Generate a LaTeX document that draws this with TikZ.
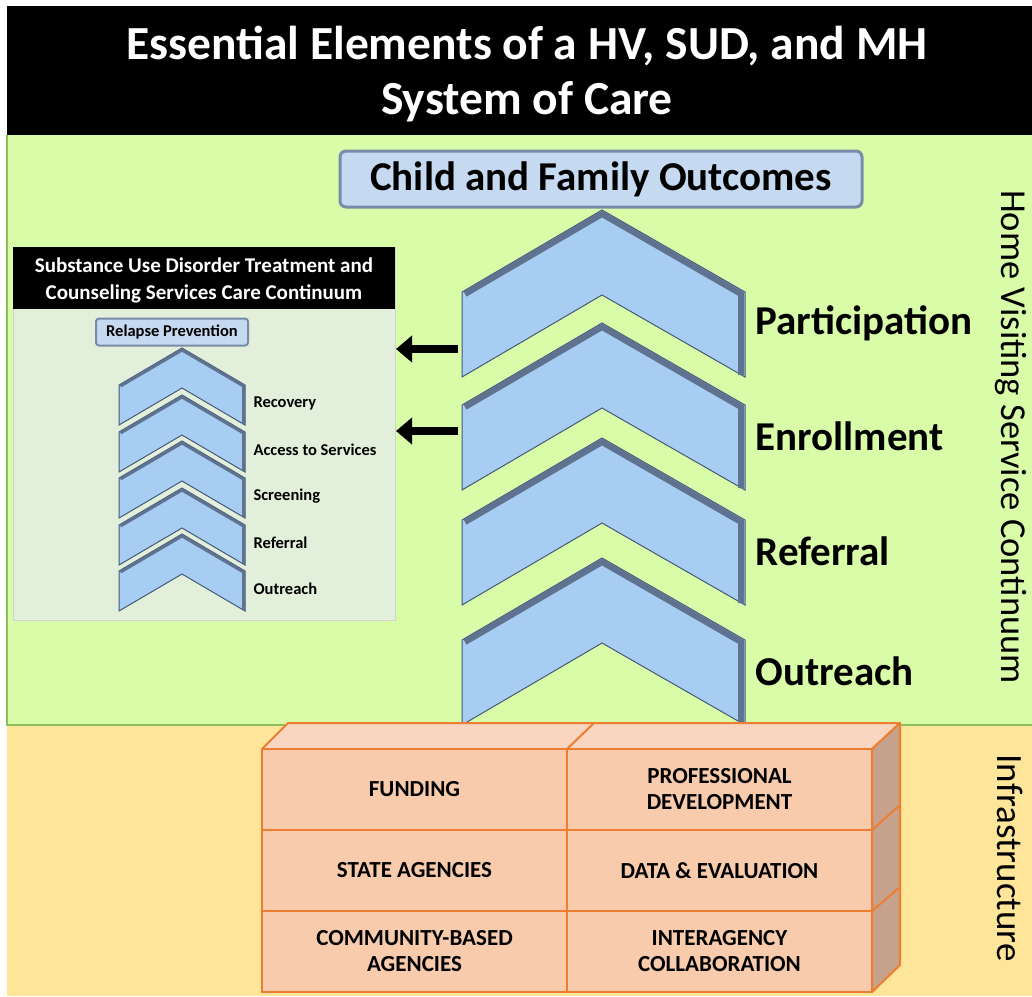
\documentclass[tikz,border=0pt]{standalone}
\usepackage{fontspec}
\setmainfont{Carlito}
\usepackage{tikz}
\usetikzlibrary{arrows.meta}
\usepackage{xcolor}
\definecolor{hvgreen}{RGB}{217,252,169}
\definecolor{hvline}{RGB}{140,190,90}
\definecolor{infrayellow}{RGB}{255,229,153}
\definecolor{chevblue}{RGB}{168,205,242}
\definecolor{chevedge}{RGB}{70,90,120}
\definecolor{chevband}{RGB}{95,115,145}
\definecolor{boxblue}{RGB}{197,217,241}
\definecolor{boxedge}{RGB}{120,140,170}
\definecolor{insetgreen}{RGB}{226,239,218}
\definecolor{peach}{RGB}{248,203,173}
\definecolor{peachtop}{RGB}{250,214,192}
\definecolor{peachside}{RGB}{198,162,140}
\definecolor{orangeedge}{RGB}{237,125,49}

\begin{document}
\begin{tikzpicture}[x=1pt,y=-1pt,
  chev/.style={fill=chevblue,draw=chevedge,line width=1pt,line join=miter},
  bigband/.style={draw=chevband,line width=6pt,line join=miter},
  smallband/.style={draw=chevband,line width=3pt,line join=miter},
  steplabel/.style={anchor=west,font=\bfseries\fontsize{41}{46}\selectfont},
  sudlabel/.style={anchor=west,font=\bfseries\fontsize{16.5}{19}\selectfont},
  outbox/.style={draw=boxedge,line width=3pt,fill=boxblue,rounded corners=6pt,inner sep=0pt},
  cell/.style={draw=orangeedge,line width=2pt,fill=peach,minimum width=305pt,minimum height=81pt,
    align=center,font=\bfseries\fontsize{23}{26}\selectfont},
  bigarrow/.style={line width=8pt,-{Triangle[length=16pt,width=26pt]}}]
\useasboundingbox (0,0) rectangle (1032,996);
\fill[white] (0,0) rectangle (1032,996);
% bands
\fill[black] (7,6) rectangle (1032,135);
\fill[hvgreen] (7,135) rectangle (1032,725);
\fill[infrayellow] (7,725) rectangle (1032,996);
\draw[hvline,line width=1.5pt] (7,135) -- (7,725) -- (1032,725);
\node[white,align=center,font=\bfseries\fontsize{47.5}{55}\selectfont] (title) at (527,74)
  {Essential Elements of a HV, SUD, and MH\\System of Care};
\node[rotate=-90,font=\fontsize{36.5}{40}\selectfont] (hvsc) at (1011,437) {Home Visiting Service Continuum};
\node[rotate=-90,font=\fontsize{37}{40}\selectfont] (infra) at (1010,858) {Infrastructure};

% outcomes box
\node[outbox,minimum width=522pt,minimum height=56pt,font=\bfseries\fontsize{41}{46}\selectfont] (outcomes) at (601,179) {Child and Family Outcomes};

% home visiting chevrons
\foreach \ty/\lab/\nm in {210/Participation/part, 323/Enrollment/enrl, 438/Referral/refl, 558/Outreach/outr} {
  \draw[chev] (462,\ty+82) -- (602,\ty) -- (745,\ty+82) -- (745,\ty+167) -- (602,\ty+85) -- (462,\ty+167) -- cycle;
  \draw[bigband] (465,\ty+84) -- (602,\ty+4) -- (741,\ty+84) -- (741,\ty+165);
  \node[steplabel] (\nm) at (752,\ty+113) {\lab};
}

% SUD inset
\fill[insetgreen] (13,247) rectangle (395,620);
\draw[gray!35] (13,247) rectangle (395,620);
\fill[black] (13,247) rectangle (395,309);
\node[white,align=center,font=\bfseries\fontsize{21}{27}\selectfont] (sudtitle) at (204,280)
  {Substance Use Disorder Treatment and\\Counseling Services Care Continuum};
\node[outbox,line width=2pt,rounded corners=3pt,minimum width=152pt,minimum height=27pt,font=\bfseries\fontsize{16.5}{18}\selectfont] (relapse) at (172,332) {Relapse Prevention};
\foreach \ty/\lab/\nm in {348/Recovery/sudrec, 395/Access to Services/sudacc, 441/Screening/sudscr, 488/Referral/sudref, 534/Outreach/sudout} {
  \draw[chev] (119,\ty+37) -- (182,\ty) -- (245,\ty+37) -- (245,\ty+77) -- (182,\ty+40) -- (119,\ty+77) -- cycle;
  \draw[smallband] (120.5,\ty+38) -- (182,\ty+2) -- (243.5,\ty+38) -- (243.5,\ty+76);
  \node[sudlabel] (\nm) at (250,\ty+55) {\lab};
}

% arrows to inset
\coordinate (partleft) at (458,349);
\coordinate (insetA) at (396,349);
\coordinate (enrlleft) at (458,431);
\coordinate (insetB) at (396,431);
\draw[bigarrow] (partleft) -- (insetA);
\draw[bigarrow] (enrlleft) -- (insetB);

% infrastructure block
\draw[orangeedge,line width=2pt,fill=peachtop,line join=round] (262,749) -- (288,723) -- (900,723) -- (872,749) -- cycle;
\draw[orangeedge,line width=2pt] (567,749) -- (594,723);
\draw[orangeedge,line width=2pt,fill=peachside,line join=round] (872,749) -- (900,723) -- (900,965) -- (872,992) -- cycle;
\draw[orangeedge,line width=2pt] (872,830) -- (900,805);
\draw[orangeedge,line width=2pt] (872,911) -- (900,887);
\node[cell] (funding) at (414.5,789.5) {FUNDING};
\node[cell] (profdev) at (719.5,789.5) {PROFESSIONAL\\DEVELOPMENT};
\node[cell] (state) at (414.5,870.5) {STATE AGENCIES};
\node[cell] (data) at (719.5,870.5) {DATA \& EVALUATION};
\node[cell] (community) at (414.5,951.5) {COMMUNITY-BASED\\AGENCIES};
\node[cell] (interagency) at (719.5,951.5) {INTERAGENCY\\COLLABORATION};
\end{tikzpicture}
\end{document}
